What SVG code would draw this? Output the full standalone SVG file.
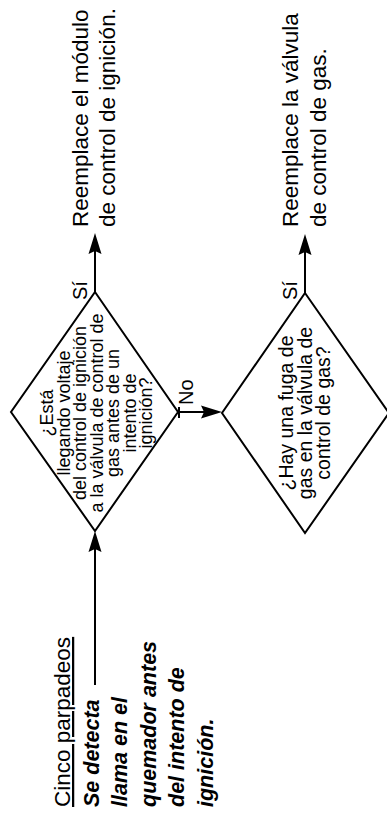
<svg xmlns="http://www.w3.org/2000/svg" width="387" height="821" viewBox="0 0 387 821">
  <style>
    text { font-family: "Liberation Sans", Arial, sans-serif; fill: #000; }
    .shape { fill: #fff; stroke: #000; stroke-width: 2; stroke-linejoin: miter; }
    .wire { fill: none; stroke: #000; stroke-width: 2; }
    .q1 { font-size: 18px; text-anchor: middle; }
    .q2 { font-size: 19.5px; text-anchor: middle; }
    .act { font-size: 22.5px; }
    .lbl { font-size: 20px; }
    .note { font-size: 21.5px; font-weight: bold; font-style: italic; }
    .head { font-size: 22.5px; text-decoration: underline; }
  </style>
  <defs>
    <marker id="arrow" viewBox="-12 -7 24 14" refX="0" refY="0" markerWidth="24" markerHeight="14" markerUnits="userSpaceOnUse" orient="auto">
      <path d="M10,0 L-11,-6.5 L-8,0 L-11,6.5 Z" fill="#000"/>
    </marker>
  </defs>

  <rect width="387" height="821" fill="#fff"/>

  <!-- connectors -->
  <g id="connectors">
    <path class="wire" d="M95,685 V541" marker-end="url(#arrow)"/>
    <path class="wire" d="M95,292 V243" marker-end="url(#arrow)"/>
    <path class="wire" d="M305,293 V244" marker-end="url(#arrow)"/>
    <path class="wire" d="M178,412 H212" marker-end="url(#arrow)"/>
    <path class="wire" d="M179,407 V418"/>
    <text class="lbl" transform="translate(87,300) rotate(-90)">Sí</text>
    <text class="lbl" transform="translate(297,300) rotate(-90)">Sí</text>
    <text class="lbl" transform="translate(193,405) rotate(-90)">No</text>
  </g>

  <!-- start condition -->
  <g id="start" transform="translate(0,807) rotate(-90)">
    <text class="head" x="0" y="70">Cinco parpadeos</text>
    <text class="note" x="0" y="98.5">Se detecta</text>
    <text class="note" x="0" y="127">llama en el</text>
    <text class="note" x="0" y="155.5">quemador antes</text>
    <text class="note" x="0" y="184">del intento de</text>
    <text class="note" x="0" y="212.5">ignición.</text>
  </g>

  <!-- decision: voltage to gas valve -->
  <g id="decision1">
    <polygon class="shape" points="95,292 178,412 95,531 11,412"/>
    <g transform="translate(95,412) rotate(-90)">
      <text class="q1" x="-1" y="-42">¿Está</text>
      <text class="q1" x="-1" y="-25.5">llegando voltaje</text>
      <text class="q1" x="-1" y="-9">del control de ignición</text>
      <text class="q1" x="-1" y="7.5">a la válvula de control de</text>
      <text class="q1" x="-1" y="24">gas antes de un</text>
      <text class="q1" x="-1" y="40.5">intento de</text>
      <text class="q1" x="-1" y="57">ignición?</text>
    </g>
  </g>

  <!-- decision: gas leak -->
  <g id="decision2">
    <polygon class="shape" points="305,293 389,413 305,533 222,413"/>
    <g transform="translate(305,413) rotate(-90)">
      <text class="q2" x="0" y="-12">¿Hay una fuga de</text>
      <text class="q2" x="0" y="6.5">gas en la válvula de</text>
      <text class="q2" x="0" y="25">control de gas?</text>
    </g>
  </g>

  <!-- action: replace ignition module -->
  <g id="action1" transform="translate(0,227) rotate(-90)">
    <text class="act" x="0" y="88">Reemplace el módulo</text>
    <text class="act" x="0" y="115">de control de ignición.</text>
  </g>

  <!-- action: replace gas valve -->
  <g id="action2" transform="translate(0,227) rotate(-90)">
    <text class="act" x="0" y="298">Reemplace la válvula</text>
    <text class="act" x="0" y="325.5">de control de gas.</text>
  </g>
</svg>
